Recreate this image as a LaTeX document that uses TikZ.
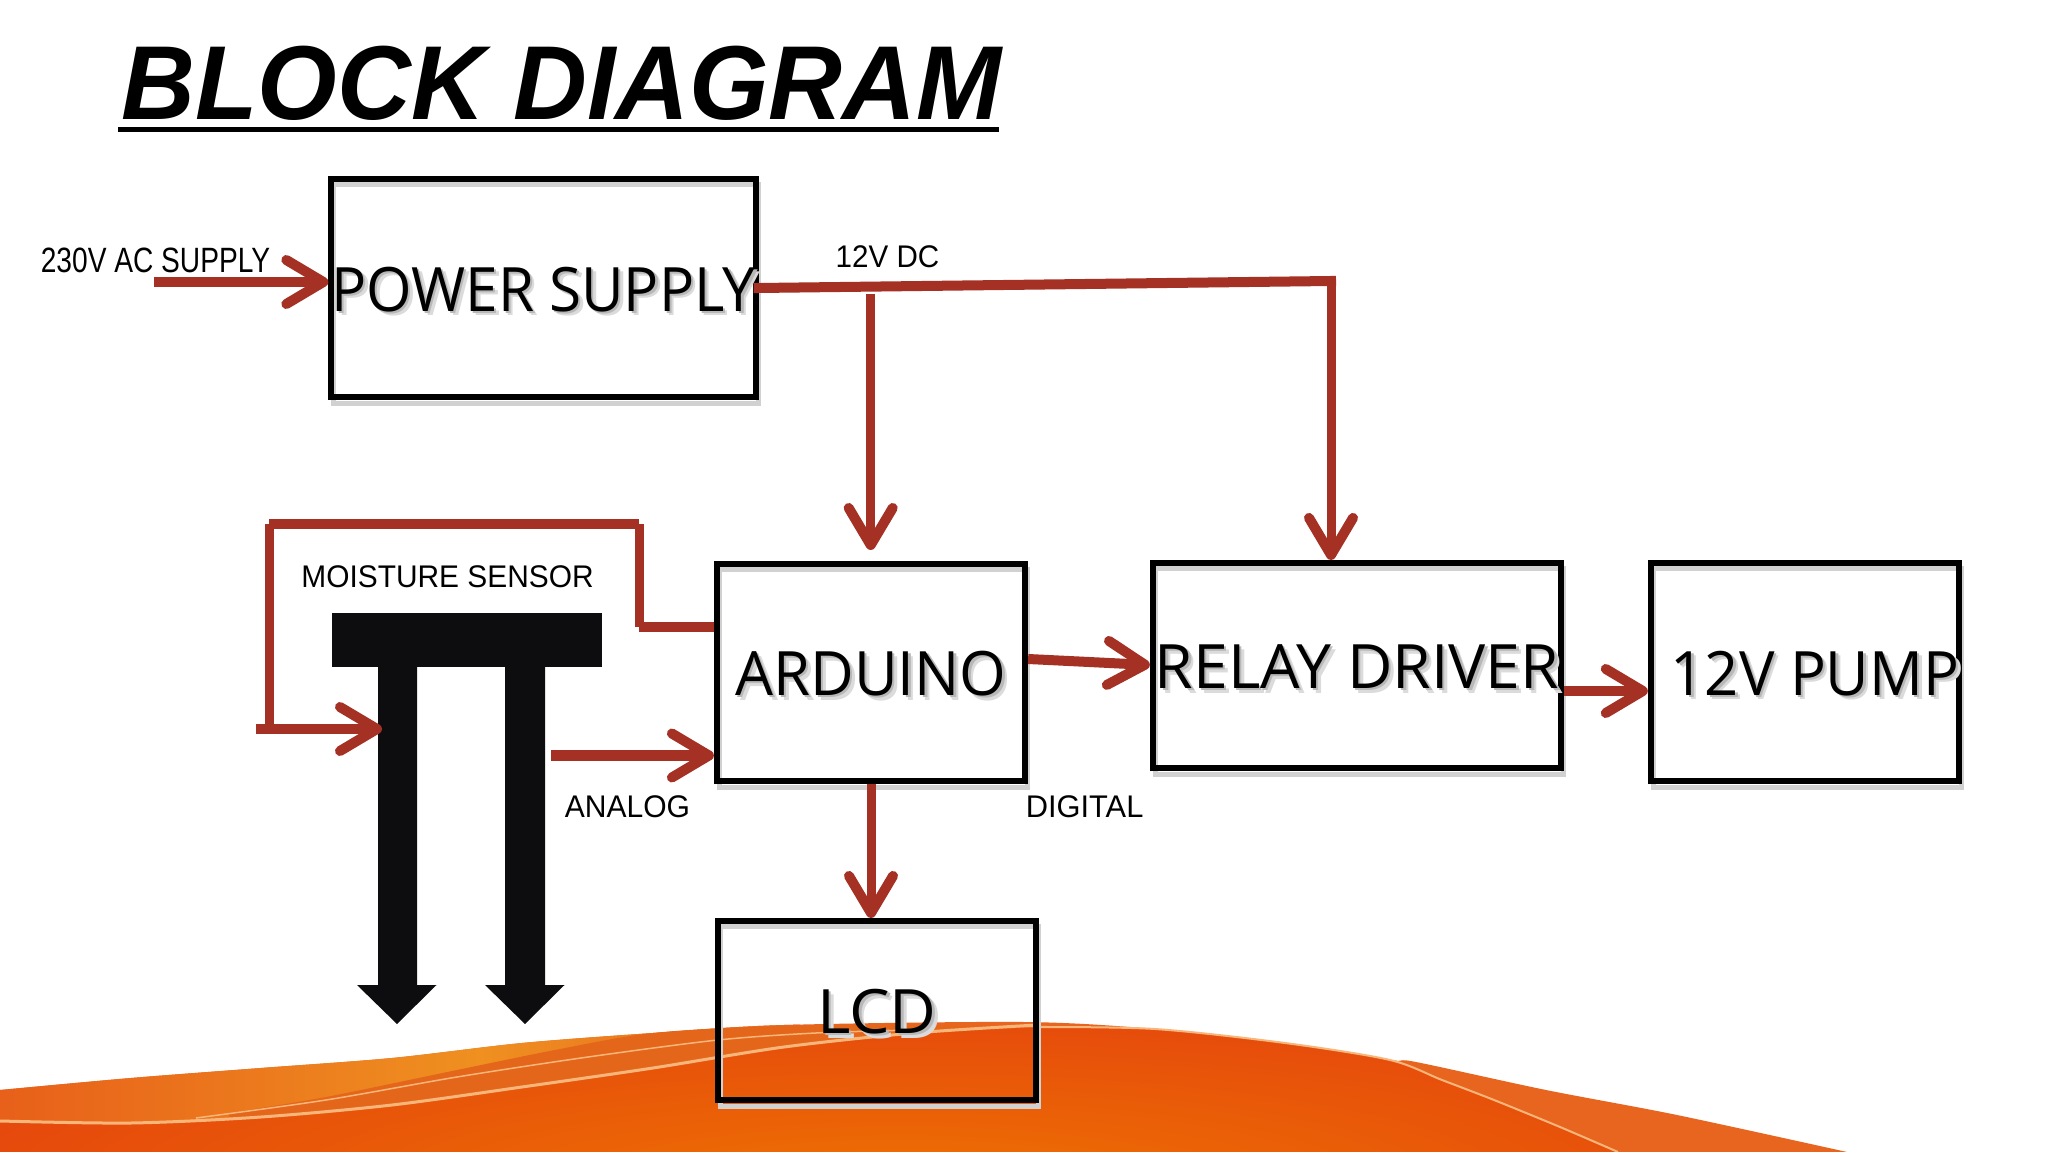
\documentclass[tikz,border=0pt]{standalone}
\usepackage{fontspec}
\setmainfont{Liberation Sans}
\newfontfamily\blockfont{Open Sans}
\usepackage{tikz}
\usetikzlibrary{positioning,arrows.meta}
\definecolor{wirered}{HTML}{A53024}
\definecolor{sensorblack}{HTML}{0D0D0F}
\definecolor{waveback}{HTML}{E8651F}
\definecolor{waveleft}{HTML}{E8601A}
\definecolor{waveamber}{HTML}{EF9020}
\definecolor{waveband}{HTML}{E4661A}
\definecolor{wavefront}{HTML}{E5470D}
\definecolor{wavecore}{HTML}{EE7202}
\definecolor{wavecream}{HTML}{F8B67A}
\newcommand{\blocklabel}[2]{\raisebox{-0.23cm}[0pt][0pt]{\scalebox{#1}[1]{\makebox[0pt][l]{\kern1.4pt\raisebox{-1.4pt}{\textcolor{black!14}{#2}}}\makebox[0pt][l]{\kern0.7pt\raisebox{-0.7pt}{\textcolor{black!28}{#2}}}#2}}}

\begin{document}
\begin{tikzpicture}[x=0.01cm,y=-0.01cm,
  >={Straight Barb[length=0.37cm,width=0.44cm,line width=0.1cm,round]}]
\tikzset{
  blockbox/.style={
    draw=black,
    line width=0.06cm,
    inner sep=0pt,
    font=\blockfont\fontsize{17.4}{20}\selectfont,
    preaction={draw=black!18,line width=0.05cm,transform canvas={xshift=0.025cm,yshift=-0.06cm}},
  },
  wire/.style={
    draw=wirered,
    line width=0.1cm,
  },
  lightwire/.style={
    draw=wirered,
    line width=0.09cm,
  },
  signal/.style={
    inner sep=0pt,
    font=\fontsize{8.9}{10}\selectfont,
  },
  prong/.style={
    fill=sensorblack,
  },
  creamline/.style={
    draw=wavecream,
    line width=0.03cm,
  },
}

\useasboundingbox (0,0) rectangle (2048,1152);
\fill[white] (0,0) rectangle (2048,1152);

\begin{scope}
\clip plot[smooth] coordinates {(0,1090) (131,1078) (261,1068) (392,1058) (522,1043) (653,1033) (784,1025) (1024,1022) (1155,1029) (1285,1043) (1390,1060) (1416,1062) (1546,1090) (1677,1115) (1847,1152)} -- (0,1152) -- cycle;
\fill[waveback] (0,1000) rectangle (2048,1152);
\shade[left color=waveleft,right color=waveamber] (0,1000) rectangle (480,1152);
\shade[left color=waveamber,right color=waveback] (480,1000) rectangle (800,1152);
\end{scope}
\fill[waveband] plot[smooth] coordinates {(229,1113) (326,1097) (457,1070) (555,1050) (653,1033) (784,1026) (1000,1026)} -- (1000,1152) -- (229,1152) -- cycle;
\draw[creamline,line width=0.015cm] plot[smooth] coordinates {(196,1118) (326,1100) (457,1077) (588,1057) (718,1040) (816,1033) (914,1030)};

\begin{scope}
\clip plot[smooth] coordinates {(0,1121) (131,1123) (261,1117) (392,1105) (522,1087) (653,1068) (784,1047) (914,1033) (1037,1028) (1155,1029) (1285,1043) (1390,1060) (1442,1080) (1494,1100) (1560,1127) (1618,1152)} -- (0,1152) -- cycle;
\fill[wavefront] (0,1000) rectangle (2048,1152);
\shade[inner color=wavecore,outer color=wavefront] (900,1190) ellipse (1000 and 190);
\end{scope}
\draw[creamline] plot[smooth] coordinates {(0,1121) (131,1123) (261,1117) (392,1105) (522,1087) (653,1068) (784,1047) (914,1033) (1037,1025)};
\draw[creamline,line width=0.02cm] plot[smooth] coordinates {(1037,1027) (1155,1029) (1285,1043) (1390,1060) (1442,1080) (1494,1100) (1560,1127) (1618,1152)};

\node[anchor=west,inner sep=0pt,font=\bfseries\itshape\fontsize{29.9}{34}\selectfont] (title) at (121,83) {\scalebox{0.972}[1]{BLOCK DIAGRAM}};
\fill (118,127.5) rectangle (999,132);

\node[blockbox,minimum width=4.22cm,minimum height=2.18cm] (PS) at (543.5,288) {\blocklabel{0.955}{POWER SUPPLY}};
\node[blockbox,minimum width=3.08cm,minimum height=2.17cm] (ARD) at (871,672.5) {\blocklabel{0.98}{ARDUINO}};
\node[blockbox,minimum width=4.08cm,minimum height=2.05cm] (REL) at (1357,665.5) {\blocklabel{1.02}{RELAY DRIVER}};
\node[blockbox,minimum width=3.06cm,minimum height=2.18cm] (PUMP) at (1805,672) {\hspace*{0.2cm}\blocklabel{0.975}{12V PUMP}};
\node[blockbox,minimum width=3.18cm,minimum height=1.79cm] (LCD) at (877,1010.5) {\blocklabel{1.05}{LCD}};

\node[fill=sensorblack,inner sep=0pt,minimum width=2.7cm,minimum height=0.53cm] (BAR) at (467,640) {};
\fill[prong] (BAR.south -| 378,0) -- (417,666) -- (417,985) -- (436.5,985) -- (397,1024) -- (357,985) -- (378,985) -- cycle;
\fill[prong] (BAR.south -| 505,0) -- (545,666) -- (545,985) -- (564.5,985) -- (525,1024) -- (485,985) -- (505,985) -- cycle;
\coordinate (SR) at (551,755.5);
\coordinate (SL2) at (382,729);

\node[signal,anchor=center] (ac) at (155.5,260) {\fontsize{10}{11}\selectfont\scalebox{0.80}[1]{230V AC SUPPLY}};
\node[signal] (dc) at (887.5,256.5) {\scalebox{0.945}[1]{12V DC}};
\node[signal] (ms) at (447.5,576.5) {\scalebox{0.955}[1]{MOISTURE SENSOR}};
\node[signal] (an) at (627.5,807) {\scalebox{0.96}[1]{ANALOG}};
\node[signal] (dg) at (1084.6,807) {\scalebox{0.985}[1]{DIGITAL}};

\coordinate (acin) at (153.5,282);
\coordinate (bus) at (1331,281);
\coordinate (tap) at (870.7,294);
\coordinate (fb1) at (639,627);
\coordinate (fb2) at (639,524);
\coordinate (fb3) at (269,524);
\coordinate (fb4) at (269,729);
\coordinate (fb5) at (256,729);

\draw[wire,->] (acin) -- (PS.west |- acin);
\draw[wire,line cap=rect] (PS.east |- 0,288) -- (bus);
\draw[lightwire,->] (bus) -- (bus |- REL.north);
\draw[lightwire,->] (tap) -- (870.7,550);
\draw[wire] (ARD.west |- fb1) -- (fb1);
\draw[lightwire] (fb1) -- (fb2);
\draw[wire] (fb2) -- (fb3);
\draw[lightwire] (fb3) -- (fb4);
\draw[wire,->] (fb5) -- (SL2);
\draw[wire,->] (SR) -- (ARD.west |- SR);
\draw[wire,->] (ARD.east |- 0,659) -- (REL.west |- 0,665);
\draw[wire,->] (REL.east |- 0,691) -- (PUMP.west |- 0,691);
\draw[lightwire,->] (ARD.south) -- (ARD.south |- LCD.north);

\end{tikzpicture}
\end{document}
